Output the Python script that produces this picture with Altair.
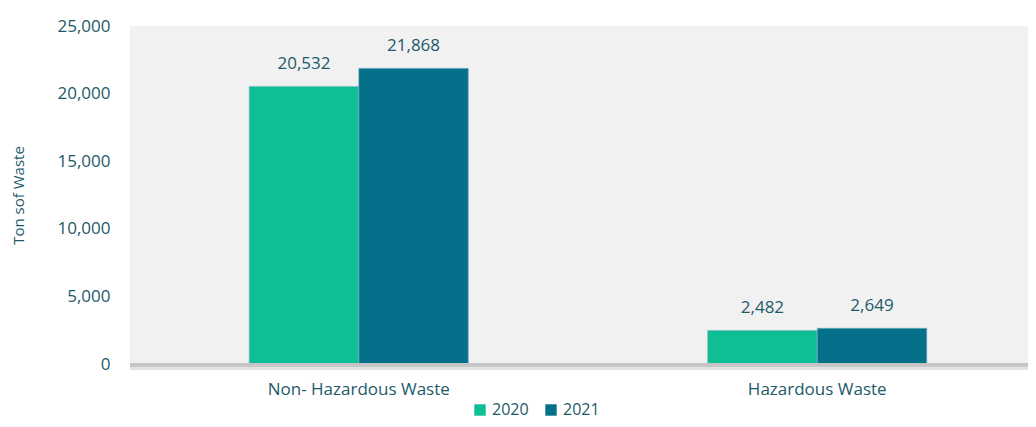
import altair as alt
import pandas as pd

categories = ["Non- Hazardous Waste", "Hazardous Waste"]
years = ["2020", "2021"]
values_2020 = [20532, 2482]
values_2021 = [21868, 2649]
y_ticks = [0, 5000, 10000, 15000, 20000, 25000]

rows = []
for i, c in enumerate(categories):
    rows.append({"cat": c, "year": "2020", "value": values_2020[i]})
    rows.append({"cat": c, "year": "2021", "value": values_2021[i]})
df = pd.DataFrame(rows)

W, H = 898, 338
FONT = "Open Sans"
TXT = "#1d5a68"

x = alt.X("cat:N", sort=categories, title=None,
          scale=alt.Scale(paddingInner=0.522, paddingOuter=0.26, range=[0, 916]),
          axis=alt.Axis(labelAngle=0, labelFontSize=17, labelColor=TXT, labelFont=FONT,
                        labelPadding=17, ticks=False, domain=False, labelLimit=400))
y = alt.Y("value:Q", title="Ton sof Waste",
          scale=alt.Scale(domain=[0, 25000], nice=False),
          axis=alt.Axis(values=y_ticks, labelExpr="format(datum.value, ',')",
                        grid=False, ticks=False, domain=False, labelFontSize=17,
                        labelColor=TXT, labelFont=FONT, labelPadding=20,
                        titleFontSize=15, titleColor=TXT, titleFont=FONT, titleFontWeight="normal",
                        titleX=-112, titleY=H / 2, titleAngle=-90, titleBaseline="middle",
                        titleAlign="center"))

color = alt.Color("year:N", scale=alt.Scale(domain=years, range=["#10be96", "#04708a"]),
                  legend=alt.Legend(title=None, orient="none", direction="horizontal",
                                    legendX=342, legendY=376, symbolType="square",
                                    symbolSize=130, symbolStrokeWidth=0, labelFontSize=16,
                                    labelColor=TXT, labelFont=FONT, columnPadding=14,
                                    labelOffset=4))

base = alt.Chart(df).encode(x=x, xOffset=alt.XOffset("year:N", sort=years), y=y)

bars = base.mark_bar(stroke="#7fb7c4", strokeWidth=0.6).encode(color=color)
text = base.mark_text(dy=-22, fontSize=17, font=FONT, color=TXT).encode(
    text=alt.Text("value:Q", format=","))

shadow_df = pd.DataFrame({"a": [0]})
domain_rule = alt.Chart(shadow_df).mark_rule(color="#c4c4c4", strokeWidth=2).encode(
    x=alt.value(0), x2=alt.value(W), y=alt.value(H))
shadow1 = alt.Chart(shadow_df).mark_rule(color="#9a9a9a", strokeWidth=2, opacity=0.55).encode(
    x=alt.value(0), x2=alt.value(W), y=alt.value(H + 2))
shadow2 = alt.Chart(shadow_df).mark_rule(color="#cfcfcf", strokeWidth=3, opacity=0.6).encode(
    x=alt.value(0), x2=alt.value(W), y=alt.value(H + 4.5))

chart = alt.layer(bars, text, domain_rule, shadow1, shadow2).properties(
    width=W, height=H,
    background="white",
    autosize=alt.AutoSizeParams(type="none"),
    padding={"left": 122, "top": 18, "right": 0, "bottom": 55},
).configure_view(fill="#f1f1f1", stroke=None)

chart.save("out.html", embed_options={"renderer": "svg", "actions": False})
